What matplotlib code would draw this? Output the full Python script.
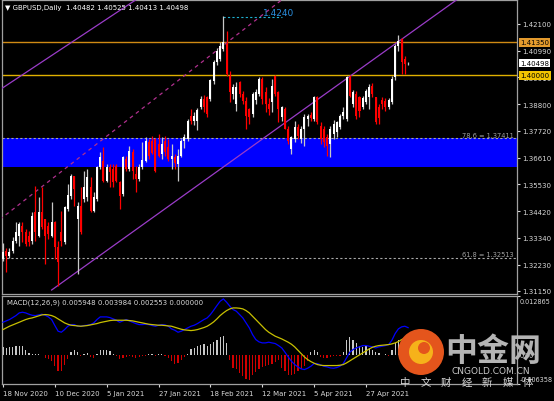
import numpy as np
import pandas as pd
import matplotlib
matplotlib.use('Agg')
import matplotlib.pyplot as plt
from matplotlib.patches import Ellipse
import matplotlib.transforms as mtransforms

plt.rcParams['font.family'] = ['DejaVu Sans', 'Noto Sans CJK SC']

# 日线数据 (GBPUSD, 2020-11-18 起, 去掉圣诞和元旦)
dates = pd.bdate_range('2020-11-18', '2021-05-14')
dates = dates[~dates.isin(pd.to_datetime(['2020-12-25', '2021-01-01']))]

opens = [1.3246, 1.3280, 1.3260, 1.3278, 1.3321, 1.3342, 1.3383, 1.3358, 1.3340, 1.3321,
         1.3440, 1.3342, 1.3438, 1.3410, 1.3383, 1.3342, 1.3397, 1.3294, 1.3356, 1.3315,
         1.3451, 1.3506, 1.3585, 1.3410, 1.3465, 1.3492, 1.3500, 1.3540, 1.3444, 1.3492,
         1.3622, 1.3649, 1.3567, 1.3622, 1.3615, 1.3629, 1.3561, 1.3513, 1.3656, 1.3615,
         1.3686, 1.3595, 1.3574, 1.3622, 1.3649, 1.3725, 1.3731, 1.3738, 1.3718, 1.3677,
         1.3731, 1.3704, 1.3656, 1.3663, 1.3636, 1.3670, 1.3728, 1.3738, 1.3834, 1.3810,
         1.3810, 1.3869, 1.3902, 1.3910, 1.3902, 1.3976, 1.4054, 1.4066, 1.4107, 1.4128,
         1.3997, 1.3923, 1.3880, 1.3972, 1.3923, 1.3894, 1.3861, 1.3841, 1.3900, 1.3923,
         1.3984, 1.3930, 1.3880, 1.3890, 1.3997, 1.3931, 1.3828, 1.3861, 1.3779, 1.3697,
         1.3738, 1.3787, 1.3738, 1.3779, 1.3820, 1.3835, 1.3820, 1.3910, 1.3791, 1.3779,
         1.3746, 1.3718, 1.3760, 1.3767, 1.3787, 1.3833, 1.3820, 1.3992, 1.3880, 1.3923,
         1.3910, 1.3870, 1.3890, 1.3910, 1.3955, 1.3910, 1.3870, 1.3900, 1.3895, 1.3870,
         1.3890, 1.3992, 1.4120, 1.4148, 1.4066, 1.40482]
highs = [1.3312, 1.3290, 1.3290, 1.3336, 1.3397, 1.3397, 1.3397, 1.3369, 1.3360, 1.3440,
         1.3547, 1.3499, 1.3540, 1.3412, 1.3398, 1.3479, 1.3400, 1.3321, 1.3444, 1.3465,
         1.3554, 1.3595, 1.3588, 1.3479, 1.3540, 1.3608, 1.3615, 1.3581, 1.3520, 1.3629,
         1.3684, 1.3704, 1.3636, 1.3636, 1.3636, 1.3636, 1.3567, 1.3670, 1.3670, 1.3711,
         1.3697, 1.3629, 1.3636, 1.3725, 1.3745, 1.3738, 1.3752, 1.3741, 1.3759, 1.3745,
         1.3752, 1.3738, 1.3718, 1.3677, 1.3697, 1.3738, 1.3760, 1.3820, 1.3861, 1.3850,
         1.3865, 1.3915, 1.3920, 1.3915, 1.3984, 1.4062, 1.4110, 1.4136, 1.4241, 1.4181,
         1.4017, 1.3964, 1.3970, 1.3976, 1.3935, 1.3910, 1.3865, 1.3931, 1.3945, 1.3992,
         1.3992, 1.3950, 1.3905, 1.3984, 1.3999, 1.3935, 1.3873, 1.3869, 1.3791, 1.3750,
         1.3812, 1.3800, 1.3790, 1.3841, 1.3841, 1.3850, 1.3915, 1.3915, 1.3808, 1.3791,
         1.3759, 1.3791, 1.3815, 1.3812, 1.3841, 1.3870, 1.3997, 1.4000, 1.3940, 1.3935,
         1.3915, 1.3915, 1.3945, 1.3964, 1.3968, 1.3910, 1.3880, 1.3910, 1.3905, 1.3905,
         1.3997, 1.4128, 1.4166, 1.4152, 1.4080, 1.40525]
lows = [1.3238, 1.3194, 1.3250, 1.3270, 1.3310, 1.3301, 1.3315, 1.3301, 1.3300, 1.3308,
        1.3321, 1.3335, 1.3369, 1.3226, 1.3328, 1.3335, 1.3246, 1.3137, 1.3301, 1.3308,
        1.3444, 1.3492, 1.3465, 1.3185, 1.3349, 1.3479, 1.3485, 1.3438, 1.3438, 1.3485,
        1.3615, 1.3561, 1.3561, 1.3540, 1.3540, 1.3561, 1.3451, 1.3506, 1.3608, 1.3608,
        1.3574, 1.3520, 1.3567, 1.3615, 1.3643, 1.3656, 1.3677, 1.3604, 1.3663, 1.3656,
        1.3670, 1.3649, 1.3615, 1.3615, 1.3567, 1.3663, 1.3700, 1.3731, 1.3800, 1.3795,
        1.3775, 1.3861, 1.3850, 1.3828, 1.3895, 1.3964, 1.4040, 1.4058, 1.4099, 1.3997,
        1.3890, 1.3902, 1.3853, 1.3910, 1.3880, 1.3779, 1.3800, 1.3828, 1.3880, 1.3915,
        1.3882, 1.3850, 1.3835, 1.3849, 1.3915, 1.3808, 1.3812, 1.3779, 1.3718, 1.3677,
        1.3726, 1.3740, 1.3720, 1.3710, 1.3790, 1.3810, 1.3812, 1.3800, 1.3718, 1.3705,
        1.3668, 1.3664, 1.3740, 1.3746, 1.3779, 1.3820, 1.3812, 1.3910, 1.3870, 1.3820,
        1.3828, 1.3860, 1.3880, 1.3861, 1.3910, 1.3800, 1.3800, 1.3860, 1.3855, 1.3860,
        1.3880, 1.3980, 1.4100, 1.4005, 1.4005, 1.40413]
closes = [1.3275, 1.3260, 1.3276, 1.3321, 1.3356, 1.3390, 1.3356, 1.3308, 1.3315, 1.3424,
          1.3356, 1.3440, 1.3376, 1.3342, 1.3349, 1.3397, 1.3294, 1.3233, 1.3321, 1.3458,
          1.3509, 1.3585, 1.3533, 1.3465, 1.3356, 1.3540, 1.3581, 1.3444, 1.3499, 1.3622,
          1.3663, 1.3567, 1.3622, 1.3602, 1.3561, 1.3567, 1.3506, 1.3663, 1.3615, 1.3690,
          1.3608, 1.3574, 1.3622, 1.3653, 1.3731, 1.3670, 1.3680, 1.3608, 1.3670, 1.3718,
          1.3684, 1.3656, 1.3670, 1.3640, 1.3670, 1.3731, 1.3745, 1.3813, 1.3814, 1.3834,
          1.3857, 1.3902, 1.3870, 1.3841, 1.3980, 1.4054, 1.4099, 1.4119, 1.4136, 1.4005,
          1.3931, 1.3951, 1.3951, 1.3923, 1.3894, 1.3833, 1.3828, 1.3923, 1.3931, 1.3984,
          1.3902, 1.3880, 1.3860, 1.3955, 1.3923, 1.3861, 1.3869, 1.3779, 1.3730, 1.3746,
          1.3787, 1.3750, 1.3779, 1.3828, 1.3833, 1.3825, 1.3910, 1.3808, 1.3738, 1.3726,
          1.3709, 1.3779, 1.3800, 1.3808, 1.3833, 1.3850, 1.3992, 1.3915, 1.3931, 1.3833,
          1.3853, 1.3906, 1.3935, 1.3951, 1.3923, 1.3808, 1.3825, 1.3880, 1.3870, 1.3900,
          1.3984, 1.4119, 1.4140, 1.4054, 1.4046, 1.40498]

# MACD(12,26,9), 单位 1e-3
macd_main = [7.13, 7.43, 7.72, 8.15, 8.59, 9.17, 9.32, 9.17, 8.88, 8.66,
             8.59, 8.74, 8.88, 8.66, 8.30, 7.72, 6.41, 5.17, 4.95, 5.53,
             6.26, 6.62, 6.62, 6.26, 6.26, 6.41, 6.48, 6.62, 6.99, 7.72,
             8.30, 8.30, 8.30, 8.15, 7.86, 7.57, 7.13, 7.43, 7.72, 7.43,
             7.13, 6.84, 6.62, 6.62, 6.70, 6.62, 6.41, 6.26, 6.48, 6.62,
             6.55, 6.26, 5.68, 5.39, 4.95, 5.17, 5.53, 5.90, 6.26, 6.48,
             6.84, 7.28, 7.72, 8.08, 8.81, 9.76, 10.77, 11.72, 12.23, 11.50,
             10.63, 9.90, 9.54, 8.81, 8.08, 6.99, 5.90, 4.44, 3.35, 2.84,
             2.62, 2.62, 2.77, 2.62, 2.48, 2.04, 1.53, 0.58, -0.44, -1.38,
             -2.11, -2.62, -3.06, -3.20, -2.91, -2.48, -1.89, -1.89, -2.18, -2.48,
             -2.62, -2.84, -2.91, -2.77, -2.48, -1.89, -0.66, 0.58, 1.16, 1.53,
             1.75, 2.04, 2.04, 1.89, 1.75, 1.53, 1.75, 1.89, 2.04, 2.26,
             3.20, 4.66, 5.68, 6.12, 6.26, 5.948]
macd_signal = [5.53, 5.90, 6.26, 6.55, 6.84, 7.13, 7.43, 7.72, 7.94, 8.08,
               8.30, 8.52, 8.74, 8.81, 8.74, 8.59, 8.30, 7.86, 7.43, 6.99,
               6.70, 6.48, 6.41, 6.33, 6.26, 6.33, 6.41, 6.55, 6.70, 6.84,
               7.06, 7.21, 7.35, 7.50, 7.57, 7.57, 7.57, 7.57, 7.57, 7.50,
               7.43, 7.28, 7.13, 6.99, 6.84, 6.70, 6.62, 6.55, 6.48, 6.48,
               6.41, 6.33, 6.26, 6.04, 5.82, 5.61, 5.46, 5.39, 5.31, 5.39,
               5.53, 5.75, 5.97, 6.26, 6.70, 7.21, 7.86, 8.59, 9.17, 9.68,
               10.05, 10.26, 10.26, 10.19, 10.05, 9.68, 9.17, 8.44, 7.72, 6.99,
               6.26, 5.53, 4.95, 4.51, 4.08, 3.79, 3.49, 3.13, 2.77, 2.33,
               1.75, 1.02, 0.29, -0.44, -1.02, -1.46, -1.82, -2.11, -2.26, -2.33,
               -2.33, -2.33, -2.33, -2.33, -2.26, -2.11, -1.75, -1.31, -0.87, -0.44,
               0.00, 0.44, 0.87, 1.31, 1.67, 1.89, 2.04, 2.11, 2.18, 2.26,
               2.40, 2.62, 2.91, 3.35, 3.71, 3.984]
macd_hist = [1.75, 1.53, 1.67, 1.75, 1.89, 2.04, 1.89, 1.02, 0.44, 0.29,
             0.15, 0.22, 0.07, -0.66, -0.87, -1.38, -2.33, -3.57, -3.57, -2.11,
             -0.87, 0.58, 1.02, 0.58, -0.29, 0.29, 0.44, -0.44, -0.66, 0.22,
             1.02, 1.16, 1.16, 0.80, 0.29, -0.29, -0.87, -0.66, -0.44, -0.29,
             -0.44, -0.66, -0.44, -0.29, -0.15, 0.22, 0.15, -0.15, 0.15, 0.15,
             -0.29, -0.73, -1.38, -1.89, -1.75, -1.02, -0.44, 0.22, 1.31, 1.53,
             1.89, 2.26, 2.48, 1.89, 2.48, 2.77, 3.35, 3.86, 4.08, 2.62,
             -1.02, -2.84, -3.06, -3.93, -4.51, -5.24, -5.53, -4.30, -3.79, -3.06,
             -2.62, -2.48, -2.11, -1.89, -1.60, -1.02, -2.84, -3.57, -4.30, -4.30,
             -4.08, -3.57, -3.06, -2.33, -1.38, 0.58, 1.16, 0.58, -0.44, -0.66,
             -0.66, -0.44, -0.29, -0.15, -0.15, 0.58, 3.35, 3.93, 3.35, 2.62,
             1.89, 1.75, 2.04, 1.53, 1.02, 0.58, 0.44, 0.07, 0.15, -0.29,
             1.16, 2.62, 3.35, 2.98, 2.77, 2.553]

# 水平线 / 斐波那契 / 区域
level_orange = 1.41350
level_yellow = 1.40000
fib_786 = 1.37411
fib_618 = 1.32513
zone_low = 1.3624
peak_price = 1.4240
peak_bar = 68

price_ticks = [1.42100, 1.40990, 1.39910, 1.38800, 1.37720, 1.36610,
               1.35530, 1.34420, 1.33340, 1.32230, 1.31150]
date_ticks = [0, 16, 32, 48, 64, 80, 96, 112]
macd_ticks = [0.012865, 0.0, -0.006358]
macd_tick_labels = ['0.012865', '0.00', '-0.006358']

# 趋势线 (bar, price)
trend_lower = [(15.0, 1.3119), (140.0, 1.4309)]
trend_upper = [(-1.0, 1.3940), (45.0, 1.4344)]
trend_dash = [(-1.0, 1.3408), (90.0, 1.4350)]

W, H = 554, 402
fig = plt.figure(figsize=(W / 100, H / 100), dpi=100, facecolor='black')
ax = fig.add_axes([2 / W, 1 - 295 / H, 515 / W, 294 / H], facecolor='black')
ax2 = fig.add_axes([2 / W, 1 - 385 / H, 515 / W, 88 / H], facecolor='black')

x = np.arange(len(closes))
o = np.array(opens); h = np.array(highs); l = np.array(lows); c = np.array(closes)
up = c >= o
bt = mtransforms.blended_transform_factory(ax.transAxes, ax.transData)

# 蓝色区域和斐波那契线
ax.axhspan(zone_low, fib_786, color='#0000ff', zorder=1, lw=0)
for lv in (fib_786, fib_618):
    ax.axhline(lv, color='#a8a8a8', lw=0.8, ls=(0, (2, 2)), zorder=2)
    ax.text(0.994, lv + 0.0003, '%.1f = %.5f' % (78.6 if lv == fib_786 else 61.8, lv), transform=bt,
            ha='right', va='bottom', color='#a0a0a0', fontsize=4.8, zorder=6)

ax.axhline(level_orange, color='#d08a14', lw=1.0, zorder=2)
ax.axhline(level_yellow, color='#e0b000', lw=1.0, zorder=2)

# 趋势线
for pts, ls, col in ((trend_lower, '-', '#9a3cc8'), (trend_upper, '-', '#9a3cc8'), (trend_dash, (0, (3, 3)), '#b0308e')):
    ax.plot([pts[0][0], pts[1][0]], [pts[0][1], pts[1][1]], color=col, lw=0.9, ls=ls, zorder=3)

# K线
wick_col = np.where(up, '#c8c8c8', '#ff0000')
ax.vlines(x, l, h, colors=wick_col, lw=0.9, zorder=4)
body_h = np.maximum(np.abs(c - o), 0.00006)
ax.bar(x, body_h, bottom=np.minimum(o, c), width=0.62,
       color=np.where(up, '#ffffff', '#ff0000'), lw=0, zorder=5)

# 最高点标注
ax.plot([peak_bar, peak_bar + 18], [peak_price, peak_price], color='#1fb0d0', lw=0.8, ls=(0, (2, 2)), zorder=3)
ax.text(peak_bar + 12.3, peak_price, '1.4240', color='#2a90e0', fontsize=6.5, ha='left', va='bottom', zorder=6)

ax.set_xlim(-0.31, 158.6)
ax.set_ylim(1.31027, 1.43081)
ax.yaxis.tick_right()
ax.set_yticks(price_ticks)
ax.set_yticklabels(['%.5f' % v for v in price_ticks])
ax.tick_params(axis='y', colors='#d8d8d8', labelsize=5, length=2.5, width=0.8, pad=1.5)
ax.set_xticks([])
for sp in ax.spines.values():
    sp.set_color('#a0a0a0'); sp.set_linewidth(0.9)

# 右侧价格标签
for val, fc in ((level_orange, '#e39a2d'), (closes[-1], '#ffffff'), (level_yellow, '#f2c500')):
    ax.text(1.006, val, '%.5f' % val, transform=bt, ha='left', va='center', fontsize=5, color='black',
            bbox=dict(boxstyle='square,pad=0.2', fc=fc, ec='none'), clip_on=False, zorder=10)

# MACD
hist = np.array(macd_hist) * 1e-3
ax2.bar(x, hist, width=0.38, color=np.where(hist >= 0, '#c8c8c8', '#d00000'), lw=0, zorder=2)
ax2.plot(x, np.array(macd_main) * 1e-3, color='#0000ff', lw=0.9, zorder=3)
ax2.plot(x, np.array(macd_signal) * 1e-3, color='#c8c000', lw=0.9, zorder=3)
ax2.set_xlim(-0.31, 158.6)
ax2.set_ylim(-0.006358, 0.012865)
ax2.yaxis.tick_right()
ax2.set_yticks(macd_ticks)
ax2.set_yticklabels(['', '', ''])
ax2.tick_params(axis='y', colors='#d8d8d8', length=2.5, width=0.8)
t2 = mtransforms.blended_transform_factory(ax2.transAxes, ax2.transData)
for val, lab in zip((0.0117, 0.0, -0.0052), macd_tick_labels):
    ax2.text(1.0045, val, lab, transform=t2, fontsize=4.7, color='#d8d8d8', va='center', ha='left', clip_on=False)
ax2.text(0.0097, 0.94, 'MACD(12,26,9) 0.005948 0.003984 0.002553 0.000000', transform=ax2.transAxes,
         fontsize=5, color='#d8d8d8', va='center', ha='left')
ax2.set_xticks(date_ticks)
ax2.set_xticklabels([dates[i].strftime('%d %b %Y').lstrip('0') for i in date_ticks], ha='left')
ax2.tick_params(axis='x', colors='#d8d8d8', labelsize=5, length=2.5, width=0.8, pad=2)
for sp in ax2.spines.values():
    sp.set_color('#a0a0a0'); sp.set_linewidth(0.9)

fig.text(5 / W, 1 - 8 / H, '\u25bc GBPUSD,Daily  1.40482 1.40525 1.40413 1.40498', color='white',
         fontsize=5, va='center', ha='left')

# 水印
fig.patches.append(Ellipse((421 / W, 1 - 353 / H), 46 / W, 46 / H, transform=fig.transFigure,
                           fc='#e4551c', ec='none', zorder=20))
fig.patches.append(Ellipse((421 / W, 1 - 353 / H), 24 / W, 24 / H, transform=fig.transFigure,
                           fc='#f6b21a', ec='none', zorder=21))
fig.patches.append(Ellipse((424 / W, 1 - 349 / H), 12 / W, 12 / H, transform=fig.transFigure,
                           fc='#e4551c', ec='none', zorder=22))
fig.text(493 / W, 1 - 352 / H, '中金网', family=['Noto Sans CJK SC'], fontsize=23, fontweight='bold',
         color='#b4b4b4', ha='center', va='center', zorder=23)
fig.text(491 / W, 1 - 372 / H, 'CNGOLD.COM.CN', fontsize=6.5, color='#c8c8c8', ha='center', va='center', zorder=23)
for k, ch in enumerate('中文财经新媒体'):
    fig.text((405 + 20.5 * k) / W, 1 - 383 / H, ch, family=['Noto Sans CJK SC'], fontsize=7.5,
             color='#d8d8d8', ha='center', va='center', zorder=23)

fig.savefig('out.png', dpi=100, facecolor='black')
